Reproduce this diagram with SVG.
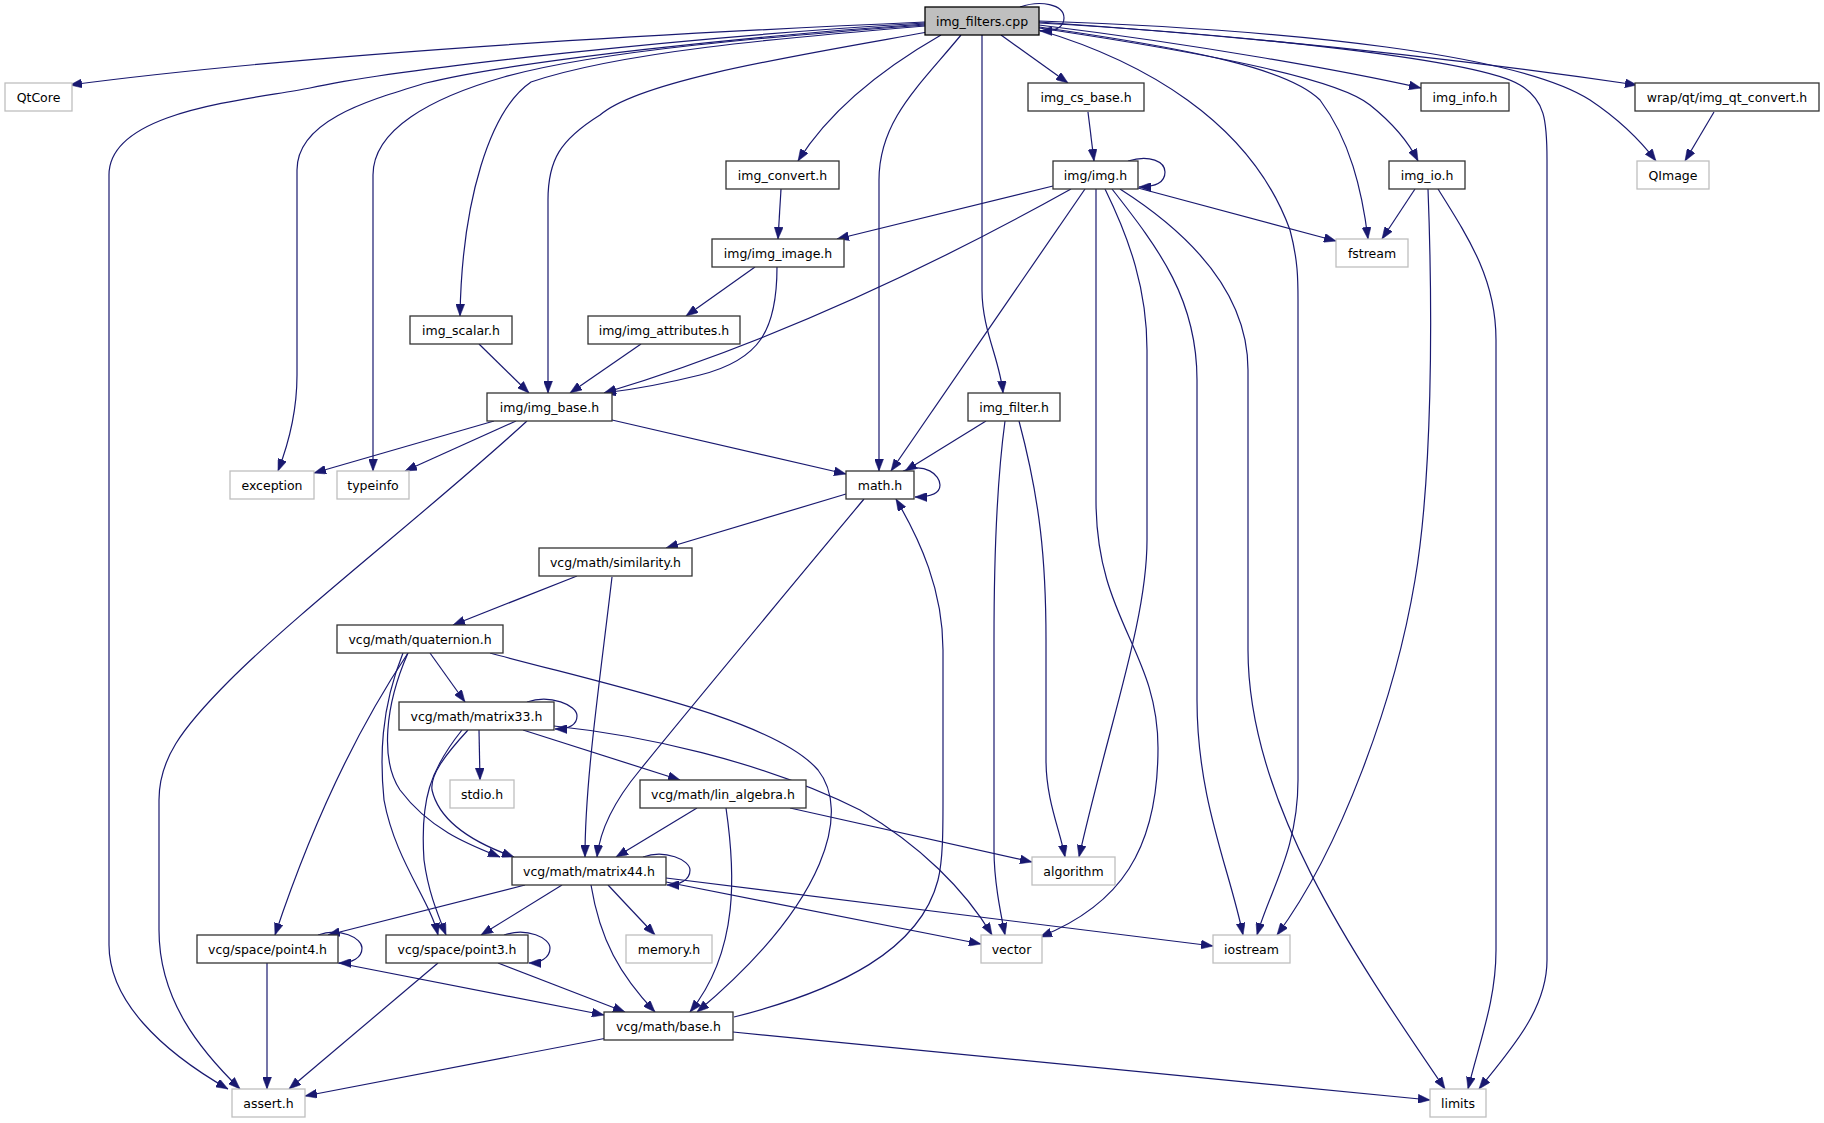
<svg xmlns="http://www.w3.org/2000/svg" width="1824" height="1123" viewBox="0 0 1824 1123">
<defs>
<style>
.n rect{fill:#ffffff;stroke:#333333;stroke-width:1.3}
.s rect{fill:#ffffff;stroke:#bfbfbf;stroke-width:1.3}
.r rect{fill:#bfbfbf;stroke:#000000;stroke-width:1.3}
text{font-family:"DejaVu Sans","Liberation Sans",sans-serif;font-size:12.5px;fill:#000000;text-anchor:middle}
#edges path{fill:none;stroke:#191970;stroke-width:1.2;marker-end:url(#a)}
</style>
<marker id="a" markerUnits="userSpaceOnUse" markerWidth="12" markerHeight="9" refX="12" refY="4.5" orient="auto">
<path d="M0,0 L12,4.5 L0,9 z" fill="#191970" stroke="#191970" stroke-width="0.5"/>
</marker>
</defs>
<rect x="0" y="0" width="1824" height="1123" fill="#ffffff"/>
<g id="edges">
<path d="M925,22 C700,32 320,52 70,85"/>
<path d="M925,23 C700,36 400,68 310,88 C250,100 109,110 109,175 L109,945 C109,1000 160,1050 228,1089"/>
<path d="M925,24 C750,36 520,60 426,83 C370,100 297,120 297,170 L297,375 C297,410 290,440 278,471"/>
<path d="M925,25 C780,36 600,50 504,77 C430,98 373,130 373,175 L373,471"/>
<path d="M925,26 C780,38 620,52 531,82 C490,110 462,200 460,316"/>
<path d="M928,32 C800,55 640,80 600,115 C560,140 548,160 548,200 L548,393"/>
<path d="M941,35 C880,70 830,110 798,161"/>
<path d="M961,35 C920,85 879,120 879,180 L879,471"/>
<path d="M982,35 L982,290 C982,330 1000,360 1003,393"/>
<path d="M1001,35 L1068,83"/>
<path d="M1039,30 C1140,60 1250,120 1290,230 C1298,260 1298,280 1298,300 L1298,780 C1298,850 1270,890 1257,935"/>
<path d="M1039,27 C1200,50 1290,70 1320,100 C1350,140 1362,190 1368,239"/>
<path d="M1039,28 C1220,55 1340,80 1370,105 C1395,125 1410,145 1418,161"/>
<path d="M1039,25 C1200,45 1340,70 1421,88"/>
<path d="M1039,23 C1250,35 1480,60 1520,85 C1545,100 1547,120 1547,160 L1547,960 C1547,1010 1510,1050 1479,1089"/>
<path d="M1039,21 C1300,30 1520,55 1590,100 C1620,120 1640,140 1656,161"/>
<path d="M1039,22 C1300,40 1500,65 1637,85"/>
<path d="M1020,7 C1040,0 1064,4 1064,18 C1064,28 1055,31 1040,31"/>
<path d="M1088,112 L1094,161"/>
<path d="M1714,112 L1685,161"/>
<path d="M781,189 L778,239"/>
<path d="M1053,186 L837,239"/>
<path d="M1071,189 C940,262 780,340 604,393"/>
<path d="M777,267 C777,330 760,360 700,375 C660,385 630,390 604,393"/>
<path d="M755,267 L686,316"/>
<path d="M479,344 L529,393"/>
<path d="M641,344 L570,393"/>
<path d="M1085,189 L891,471"/>
<path d="M1138,188 L1336,241"/>
<path d="M1128,161 C1150,154 1165,162 1165,172 C1165,183 1155,187 1139,187"/>
<path d="M1096,189 L1096,500 C1096,620 1158,650 1158,748 C1158,850 1120,905 1040,937"/>
<path d="M1105,189 C1130,240 1147,290 1147,350 L1147,540 C1147,620 1110,720 1079,857"/>
<path d="M1112,189 C1160,250 1197,300 1197,380 L1197,700 C1197,800 1230,870 1243,935"/>
<path d="M1120,189 C1200,240 1248,300 1248,370 L1248,650 C1248,800 1350,950 1445,1089"/>
<path d="M1415,189 L1382,239"/>
<path d="M1428,189 C1433,320 1432,480 1415,580 C1395,700 1340,850 1277,935"/>
<path d="M1438,189 C1470,240 1496,280 1496,340 L1496,950 C1496,1000 1480,1040 1468,1089"/>
<path d="M986,421 L905,471"/>
<path d="M1005,421 C997,480 994,560 994,640 L994,850 C994,880 1000,910 1005,935"/>
<path d="M1019,421 C1040,500 1046,560 1046,640 L1046,760 C1046,800 1060,830 1065,857"/>
<path d="M494,421 L314,473"/>
<path d="M516,421 L405,471"/>
<path d="M527,421 C430,510 300,610 230,680 C180,730 159,760 159,800 L159,930 C159,1000 200,1050 240,1089"/>
<path d="M612,420 L846,474"/>
<path d="M903,471 C925,462 940,475 940,485 C940,494 930,497 915,497"/>
<path d="M846,494 L666,548"/>
<path d="M864,499 C780,600 680,720 640,770 C615,800 600,830 597,857"/>
<path d="M577,576 L453,625"/>
<path d="M612,577 C600,680 585,780 585,857"/>
<path d="M430,653 L465,702"/>
<path d="M408,653 C370,710 320,800 275,935"/>
<path d="M403,653 C380,710 380,760 384,800 C395,860 430,900 438,935"/>
<path d="M408,653 C385,705 380,760 400,790 C430,830 470,845 500,857"/>
<path d="M490,653 C620,688 775,720 818,770 C850,810 830,900 697,1012"/>
<path d="M527,702 C550,694 577,705 577,716 C577,725 568,729 555,729"/>
<path d="M479,730 L480,780"/>
<path d="M523,730 L680,780"/>
<path d="M554,726 C640,735 760,760 860,810 C920,845 965,890 992,935"/>
<path d="M468,730 C445,755 430,775 432,790 C440,825 480,845 514,857"/>
<path d="M462,730 C430,770 420,800 424,860 C428,890 436,910 446,935"/>
<path d="M697,808 L616,857"/>
<path d="M726,808 C735,870 740,950 690,1012"/>
<path d="M790,808 L1032,862"/>
<path d="M643,857 C665,849 690,860 690,870 C690,880 680,885 667,885"/>
<path d="M525,885 L328,935"/>
<path d="M562,885 L481,935"/>
<path d="M608,885 L655,935"/>
<path d="M666,882 L981,944"/>
<path d="M666,878 L1213,946"/>
<path d="M591,885 C600,940 620,975 655,1012"/>
<path d="M318,935 C340,927 362,938 362,948 C362,958 352,963 339,963"/>
<path d="M267,963 L267,1089"/>
<path d="M338,963 L604,1015"/>
<path d="M504,935 C527,927 550,938 550,948 C550,958 540,963 529,963"/>
<path d="M438,963 L289,1089"/>
<path d="M498,963 L625,1012"/>
<path d="M607,1038 L305,1096"/>
<path d="M733,1032 L1430,1100"/>
<path d="M734,1017 C840,990 920,950 938,880 C943,860 943,830 943,800 L943,650 C943,590 920,540 896,499"/>
</g>
<g id="n_root" class="r"><rect x="925" y="7" width="114" height="28"/><text x="982" y="26">img_filters.cpp</text></g>
<g id="n_qtcore" class="s"><rect x="5" y="83" width="67" height="28"/><text x="38.5" y="102">QtCore</text></g>
<g id="n_img_cs_base" class="n"><rect x="1028" y="83" width="116" height="28"/><text x="1086" y="102">img_cs_base.h</text></g>
<g id="n_img_info" class="n"><rect x="1421" y="83" width="88" height="28"/><text x="1465" y="102">img_info.h</text></g>
<g id="n_img_qt_convert" class="n"><rect x="1635" y="83" width="184" height="28"/><text x="1727" y="102">wrap/qt/img_qt_convert.h</text></g>
<g id="n_img_convert" class="n"><rect x="726" y="161" width="113" height="28"/><text x="782.5" y="180">img_convert.h</text></g>
<g id="n_img" class="n"><rect x="1053" y="161" width="85" height="28"/><text x="1095.5" y="180">img/img.h</text></g>
<g id="n_img_io" class="n"><rect x="1389" y="161" width="76" height="28"/><text x="1427" y="180">img_io.h</text></g>
<g id="n_qimage" class="s"><rect x="1637" y="161" width="72" height="28"/><text x="1673" y="180">QImage</text></g>
<g id="n_img_image" class="n"><rect x="712" y="239" width="132" height="28"/><text x="778" y="258">img/img_image.h</text></g>
<g id="n_fstream" class="s"><rect x="1336" y="239" width="72" height="28"/><text x="1372" y="258">fstream</text></g>
<g id="n_img_scalar" class="n"><rect x="410" y="316" width="102" height="28"/><text x="461" y="335">img_scalar.h</text></g>
<g id="n_img_attributes" class="n"><rect x="588" y="316" width="152" height="28"/><text x="664" y="335">img/img_attributes.h</text></g>
<g id="n_img_base" class="n"><rect x="487" y="393" width="125" height="28"/><text x="549.5" y="412">img/img_base.h</text></g>
<g id="n_img_filter" class="n"><rect x="968" y="393" width="92" height="28"/><text x="1014" y="412">img_filter.h</text></g>
<g id="n_exception" class="s"><rect x="230" y="471" width="84" height="28"/><text x="272" y="490">exception</text></g>
<g id="n_typeinfo" class="s"><rect x="337" y="471" width="72" height="28"/><text x="373" y="490">typeinfo</text></g>
<g id="n_math" class="n"><rect x="846" y="471" width="68" height="28"/><text x="880" y="490">math.h</text></g>
<g id="n_similarity" class="n"><rect x="539" y="548" width="153" height="28"/><text x="615.5" y="567">vcg/math/similarity.h</text></g>
<g id="n_quaternion" class="n"><rect x="337" y="625" width="166" height="28"/><text x="420" y="644">vcg/math/quaternion.h</text></g>
<g id="n_matrix33" class="n"><rect x="399" y="702" width="155" height="28"/><text x="476.5" y="721">vcg/math/matrix33.h</text></g>
<g id="n_stdio" class="s"><rect x="450" y="780" width="64" height="28"/><text x="482" y="799">stdio.h</text></g>
<g id="n_lin_algebra" class="n"><rect x="640" y="780" width="166" height="28"/><text x="723" y="799">vcg/math/lin_algebra.h</text></g>
<g id="n_matrix44" class="n"><rect x="512" y="857" width="154" height="28"/><text x="589" y="876">vcg/math/matrix44.h</text></g>
<g id="n_algorithm" class="s"><rect x="1032" y="857" width="83" height="28"/><text x="1073.5" y="876">algorithm</text></g>
<g id="n_point4" class="n"><rect x="197" y="935" width="141" height="28"/><text x="267.5" y="954">vcg/space/point4.h</text></g>
<g id="n_point3" class="n"><rect x="386" y="935" width="142" height="28"/><text x="457" y="954">vcg/space/point3.h</text></g>
<g id="n_memory" class="s"><rect x="626" y="935" width="86" height="28"/><text x="669" y="954">memory.h</text></g>
<g id="n_vector" class="s"><rect x="981" y="935" width="61" height="28"/><text x="1011.5" y="954">vector</text></g>
<g id="n_iostream" class="s"><rect x="1213" y="935" width="77" height="28"/><text x="1251.5" y="954">iostream</text></g>
<g id="n_base" class="n"><rect x="604" y="1012" width="129" height="28"/><text x="668.5" y="1031">vcg/math/base.h</text></g>
<g id="n_assert" class="s"><rect x="232" y="1089" width="73" height="28"/><text x="268.5" y="1108">assert.h</text></g>
<g id="n_limits" class="s"><rect x="1430" y="1089" width="56" height="28"/><text x="1458" y="1108">limits</text></g>
</svg>
